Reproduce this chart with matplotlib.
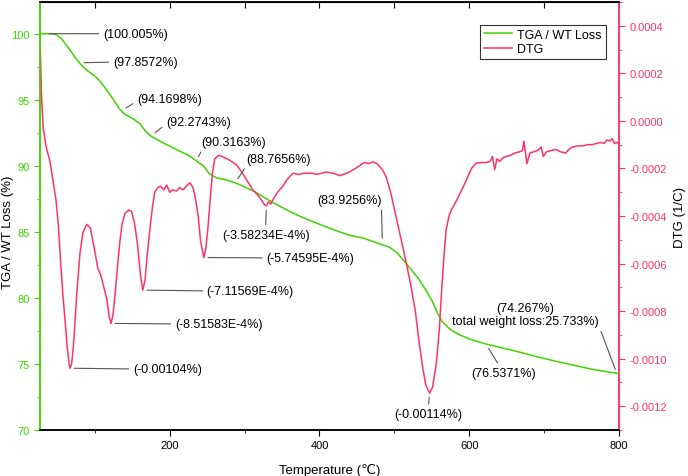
import matplotlib
matplotlib.use("Agg")
from matplotlib import pyplot as plt
from matplotlib.ticker import MultipleLocator, FormatStrFormatter

plt.rcParams['font.family'] = ['Liberation Sans', 'DejaVu Sans']
plt.rcParams['axes.unicode_minus'] = False

# TGA curve (temperature, weight %)
tga_temp = [27, 40, 47, 55, 65, 75, 80, 90, 100, 107, 115, 125, 133, 140, 150, 160,
            168, 176, 186, 196, 210, 225, 236, 245, 253, 262, 275, 288, 300, 315,
            329, 345, 360, 373, 390, 410, 427, 440, 460, 480, 493, 503, 513, 523,
            533, 543, 551, 558, 564, 575, 587, 605, 623, 645, 667, 690, 716, 740,
            764, 785, 800]
tga_wt = [100.0, 100.0, 99.97, 99.65, 98.9, 98.1, 97.75, 97.2, 96.8, 96.4, 95.8, 95.0,
          94.3, 93.9, 93.6, 93.2, 92.6, 92.2, 91.9, 91.6, 91.2, 90.8, 90.35, 90.0,
          89.4, 89.1, 88.95, 88.7, 88.4, 88.0, 87.5, 87.0, 86.55, 86.2, 85.8, 85.35,
          85.0, 84.75, 84.5, 84.1, 83.85, 83.45, 82.8, 82.1, 81.4, 80.5, 79.7, 78.8,
          78.2, 77.6, 77.2, 76.8, 76.5, 76.2, 75.9, 75.55, 75.2, 74.9, 74.6, 74.4,
          74.27]

# DTG curve (temperature, 1e-4 /C)
dtg_temp = [27, 28, 29, 31, 35, 40, 44, 48, 51, 54, 57, 60, 63, 65.5, 67, 69, 71, 73,
            76, 80, 84, 89, 94, 100, 104, 108, 112, 116, 119, 121.5, 124, 127, 130,
            133, 136, 140, 145, 149, 153, 157, 161, 164, 167, 170, 173, 177, 180,
            184, 188, 192, 196, 200, 204, 209, 213, 218, 222, 227, 231, 234, 238,
            241, 245.5, 248, 251, 254, 257, 260, 265, 270, 280, 289, 295, 300, 306,
            311, 317, 322, 326, 329, 332, 335, 338, 344, 351, 356, 360, 365, 372,
            380, 390, 396, 403, 409, 418, 427, 432, 440, 448, 455, 460, 466, 471,
            477, 484, 489, 495, 502, 507, 512, 516, 520, 523, 528, 533, 538, 542,
            547, 551, 556, 560, 563, 566, 569, 573, 576, 583, 590, 596, 603, 609,
            616, 623, 628, 631, 634, 637, 641, 645, 649, 655, 661, 667, 671, 673,
            675, 677, 681, 686, 691, 696, 699, 703, 709, 716, 722, 729, 733, 738,
            745, 752, 758, 764, 770, 775, 780, 784, 788, 791, 794, 797, 800]
dtg_e4 = [3.1, 2.0, 0.9, -0.3, -1.1, -1.7, -2.5, -3.3, -4.3, -5.8, -7.2, -8.3, -9.5,
          -10.2, -10.4, -10.2, -9.6, -8.7, -7.2, -5.6, -4.7, -4.35, -4.5, -5.5, -6.2,
          -6.5, -7.0, -7.5, -8.2, -8.52, -8.2, -7.3, -6.2, -5.2, -4.4, -3.9, -3.75,
          -3.8, -4.3, -5.2, -6.5, -7.12, -6.7, -5.6, -4.7, -3.6, -3.0, -2.8, -2.75,
          -2.9, -2.7, -3.0, -2.9, -2.95, -2.8, -2.9, -2.75, -2.6, -2.8, -3.2, -4.0,
          -5.0, -5.75, -5.4, -4.5, -3.3, -2.2, -1.6, -1.45, -1.5, -1.65, -1.85, -2.1,
          -2.35, -2.65, -2.9, -3.1, -3.3, -3.5, -3.58, -3.4, -3.5, -3.3, -3.0, -2.75,
          -2.5, -2.35, -2.2, -2.25, -2.2, -2.2, -2.25, -2.2, -2.15, -2.2, -2.3, -2.25,
          -2.15, -2.0, -1.85, -1.75, -1.8, -1.72, -1.8, -2.05, -2.35, -3.0, -4.0,
          -4.7, -5.4, -6.0, -6.6, -7.1, -8.0, -9.3, -10.4, -11.1, -11.45, -11.2,
          -10.2, -8.8, -7.2, -5.8, -4.6, -4.0, -3.75, -3.35, -2.9, -2.5, -2.0, -1.78,
          -1.75, -1.75, -1.7, -1.5, -2.05, -1.6, -1.7, -1.55, -1.5, -1.45, -1.35,
          -1.3, -1.25, -0.85, -1.3, -1.8, -1.35, -1.3, -1.25, -1.1, -1.5, -1.3,
          -1.25, -1.2, -1.3, -1.35, -1.2, -1.1, -1.05, -1.05, -1.0, -1.0, -0.95,
          -0.9, -0.95, -0.8, -0.85, -0.75, -0.95, -0.9, -1.0]
dtg = [v * 1e-4 for v in dtg_e4]

green = '#3fd400'
red = '#ff3366'
lead = '#555555'

fig = plt.figure(figsize=(6.88, 4.77), dpi=100)
ax1 = fig.add_axes([0.0581, 0.0964, 0.8416, 0.8973])
ax2 = ax1.twinx()

l1, = ax1.plot(tga_temp, tga_wt, color=green, lw=1.1, label='TGA / WT Loss')
l2, = ax2.plot(dtg_temp, dtg, color=red, lw=1.1, label='DTG')

ax1.set_xlim(26.7, 800)
ax1.set_ylim(70, 102.4)
ax2.set_ylim(-0.0013, 0.0005)

ax1.xaxis.set_major_locator(MultipleLocator(200))
ax1.xaxis.set_minor_locator(MultipleLocator(100))
ax1.yaxis.set_major_locator(MultipleLocator(5))
ax1.yaxis.set_minor_locator(MultipleLocator(2.5))
ax2.set_yticks([-0.0012, -0.0010, -0.0008, -0.0006, -0.0004, -0.0002, 0.0, 0.0002, 0.0004])
ax2.yaxis.set_minor_locator(MultipleLocator(0.0001))
ax2.yaxis.set_major_formatter(FormatStrFormatter('%.4f'))

ax1.tick_params(axis='x', which='major', length=4, labelsize=8, pad=3)
ax1.tick_params(axis='x', which='minor', length=2.5)
ax1.tick_params(axis='y', which='both', colors=green, labelsize=8)
ax1.tick_params(axis='y', which='major', length=4)
ax1.tick_params(axis='y', which='minor', length=2.5)
ax2.tick_params(axis='y', which='both', colors=red, labelsize=8)
ax2.tick_params(axis='y', which='major', length=4)
ax2.tick_params(axis='y', which='minor', length=2.5)

top = ax1.secondary_xaxis('top')
top.set_xticks(range(100, 801, 100))
top.tick_params(direction='in', length=4, labeltop=False)

for ax in (ax1, ax2):
    for s in ax.spines.values():
        s.set_linewidth(1.1)
ax2.spines['left'].set_color(green)
ax2.spines['right'].set_color(red)
ax1.spines['left'].set_color(green)
ax1.spines['right'].set_color(red)

ax1.set_xlabel('Temperature (℃)', fontsize=9.5)
ax1.set_ylabel('TGA / WT Loss (%)', fontsize=9.5)
ax2.set_ylabel('DTG (1/C)', fontsize=9.5)
ax1.yaxis.set_label_coords(-0.045, 0.465)
ax1.xaxis.set_label_coords(0.5, -0.076)
ax2.yaxis.set_label_coords(1.095, 0.5)

leg = ax2.legend(handles=[l1, l2], loc='upper right', bbox_to_anchor=(0.977, 0.946),
                 borderaxespad=0, fontsize=9, fancybox=False, framealpha=1,
                 edgecolor='#333333', handlelength=2.3, borderpad=0.3,
                 labelspacing=0.2, handletextpad=0.4)
leg.get_frame().set_linewidth(0.8)

# annotations: text, point, point axis, text pos (left-axis data), ha, relpos
notes = [
    ("(100.005%)", (33, 100.0), ax1, (110.7, 100.0), 'left', (0, 0.5)),
    ("(97.8572%)", (80, 97.8), ax1, (124, 97.85), 'left', (0, 0.5)),
    ("(94.1698%)", (137, 94.2), ax1, (156, 95.08), 'left', (0, 0.3)),
    ("(92.2743%)", (176, 92.3), ax1, (194.7, 93.33), 'left', (0, 0.3)),
    ("(90.3163%)", (236, 90.4), ax1, (242.7, 91.8), 'left', (0.02, 0.05)),
    ("(88.7656%)", (288, 88.77), ax1, (302.7, 90.53), 'left', (0.02, 0.1)),
    ("(-3.58234E-4%)", (329, -3.58e-4), ax2, (328, 84.77), 'center', (0.5, 1)),
    ("(-5.74595E-4%)", (245.5, -5.746e-4), ax2, (329, 83.03), 'left', (0, 0.5)),
    ("(-7.11569E-4%)", (164, -7.116e-4), ax2, (249.4, 80.53), 'left', (0, 0.5)),
    ("(-8.51583E-4%)", (121.5, -8.516e-4), ax2, (206.7, 78.03), 'left', (0, 0.5)),
    ("(-0.00104%)", (67, -1.04e-3), ax2, (150.7, 74.62), 'left', (0, 0.5)),
    ("(83.9256%)", (484, 84.2), ax1, (482.7, 87.42), 'right', (1, 0)),
    ("(76.5371%)", (623, 76.45), ax1, (645.4, 74.32), 'center', (0.45, 1)),
    ("(74.267%)\ntotal weight loss:25.733%)", (797, 74.3), ax1, (674.7, 78.75),
     'center', (1, 0.1)),
    ("(-0.00114%)", (547, -1.145e-3), ax2, (545.4, 71.2), 'center', (0.5, 1)),
]
for txt, pt, pax, pos, ha, rp in notes:
    ax2.annotate(txt, xy=pt, xycoords=pax.transData, xytext=pos,
                 textcoords=ax1.transData, ha=ha, va='center', fontsize=9,
                 multialignment='center', annotation_clip=False,
                 arrowprops=dict(arrowstyle='-', color=lead, lw=0.8,
                                 shrinkA=1, shrinkB=3, relpos=rp))

fig.savefig('out.png', dpi=100)
